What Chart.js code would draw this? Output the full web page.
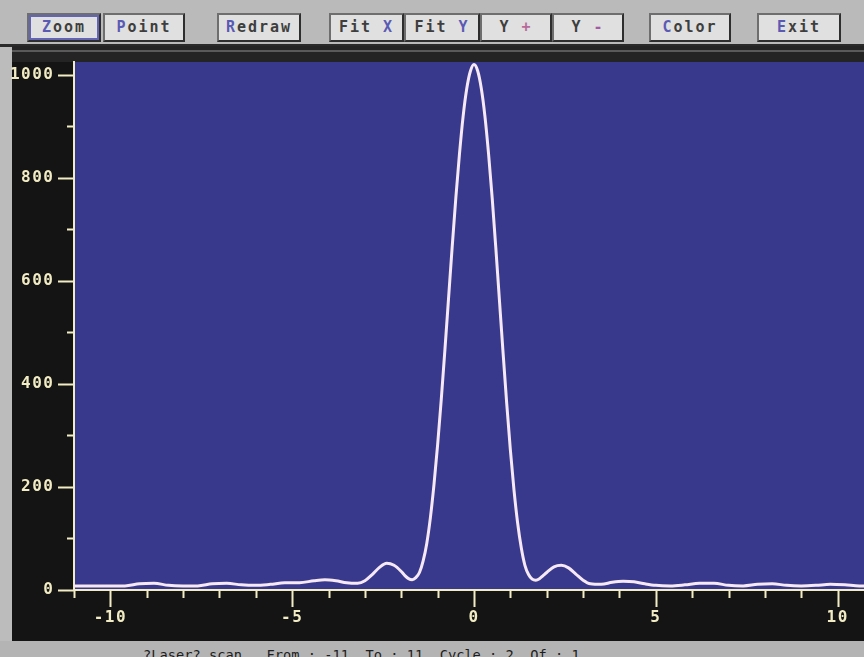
<!DOCTYPE html>
<html>
<head>
<meta charset="utf-8">
<title>Laser scan</title>
<script src="https://cdn.jsdelivr.net/npm/chart.js@4"></script>
<style>
  html, body { margin: 0; padding: 0; }
  body { width: 864px; height: 657px; overflow: hidden; background: #bcbcbc; position: relative; }
  #toolbar { position: absolute; left: 0; top: 0; width: 864px; height: 44px; background: #bababa; border-bottom: 3px solid #2a2a2a; }
  .btn { position: absolute; top: 13px; height: 29px; box-sizing: border-box; background: #e0e0e0;
         border: 2px solid; border-color: #6e6e6e #2e2e2e #2e2e2e #6e6e6e;
         font: bold 15px "DejaVu Sans Mono", monospace; letter-spacing: 2px; color: #3e3e3e;
         text-align: center; line-height: 25px; }
  .btn b { color: #5a5ab4; }
  .btn.sel { box-shadow: inset 0 0 0 2px #6464b4; }
  #wrap { position: absolute; left: 0; top: 46px; width: 880px; height: 595px; }
  #status { position: absolute; left: 0; top: 641px; width: 864px; height: 16px; background: #b4b4b4; overflow: hidden; }
  #status span { position: absolute; left: 143px; top: 6px; font: 13.7px "DejaVu Sans Mono", monospace; color: #1e1e1e; white-space: pre; }
</style>
</head>
<body>
<div id="toolbar">
  <div class="btn sel" style="left:27px;width:74px"><b>Z</b>oom</div>
  <div class="btn" style="left:103px;width:82px"><b>P</b>oint</div>
  <div class="btn" style="left:217px;width:84px"><b>R</b>edraw</div>
  <div class="btn" style="left:329px;width:75px">Fit <b>X</b></div>
  <div class="btn" style="left:404px;width:76px">Fit <b>Y</b></div>
  <div class="btn" style="left:480px;width:72px">Y <b style="color:#b86a9a">+</b></div>
  <div class="btn" style="left:552px;width:72px">Y <b style="color:#a45aa4">-</b></div>
  <div class="btn" style="left:649px;width:82px"><b>C</b>olor</div>
  <div class="btn" style="left:757px;width:84px"><b>E</b>xit</div>
</div>
<div id="wrap"><canvas id="scan" width="880" height="595"></canvas></div>
<div id="status"><span>?Laser? scan   From : -11  To : 11  Cycle : 2  Of : 1</span></div>
<script>
// scan position and measured intensity
const xs = [-11, -10.5, -10, -9.6, -9.2, -8.8, -8.4, -8.0, -7.6, -7.2, -6.8, -6.4, -6.0, -5.6, -5.2, -4.8,
  -4.4, -4.1, -3.8, -3.5, -3.2, -3.0, -2.8, -2.6, -2.4, -2.2, -2.0, -1.9, -1.8, -1.7, -1.6, -1.5,
  -1.4, -1.3, -1.2, -1.1, -1.0, -0.9, -0.8, -0.7, -0.6, -0.5, -0.4, -0.3, -0.2, -0.1, 0,
  0.1, 0.2, 0.3, 0.4, 0.5, 0.6, 0.7, 0.8, 0.9, 1.0, 1.1, 1.2, 1.3, 1.4, 1.5, 1.6, 1.7, 1.8, 1.9,
  2.0, 2.2, 2.4, 2.6, 2.8, 3.0, 3.2, 3.5, 3.8, 4.1, 4.4, 4.7, 5.0, 5.4, 5.8, 6.2, 6.6, 7.0, 7.4,
  7.8, 8.2, 8.6, 9.0, 9.4, 9.8, 10.2, 10.6, 11];
const intensity = [8, 8, 8, 8, 12, 13, 9, 8, 8, 12, 13, 10, 9, 11, 14, 14,
  18, 20, 18, 14, 13, 18, 30, 44, 52, 48, 36, 28, 22, 20, 24, 34,
  56, 90, 140, 205, 282, 370, 466, 566, 666, 761, 846, 919, 973, 1007, 1020,
  1008, 974, 920, 847, 761, 664, 562, 460, 362, 272, 194, 130, 82, 48, 30, 21, 19, 22, 28,
  34, 45, 48, 43, 31, 19, 12, 11, 15, 17, 16, 12, 9, 8, 10, 13, 13, 9, 8,
  11, 12, 9, 8, 9, 11, 10, 8, 8];

const xRange = [-11, 11];
const yRange = [0, 1025];
const xLabelTicks = [-10, -5, 0, 5, 10];
const yLabelTicks = [0, 200, 400, 600, 800, 1000];

const plotBlue = '#38398c';
const panelBlack = '#141414';
const axisCream = '#f2ecc4';

// black panel, blue plot field and the custom major/minor tick marks
const panelPlugin = {
  id: 'panel',
  beforeDraw(chart) {
    const { ctx, chartArea: a, width, height } = chart;
    // wide VGA-style digits for the axis labels
    ctx.letterSpacing = '1.5px';
    ctx.save();
    ctx.fillStyle = panelBlack;
    ctx.fillRect(12, 0, width - 12, height);
    ctx.fillStyle = '#242424';
    ctx.fillRect(12, 0, width - 12, a.top);
    ctx.fillStyle = '#5a5a5a';
    ctx.fillRect(12, 4, width - 12, 2);
    ctx.fillStyle = plotBlue;
    ctx.fillRect(a.left, a.top, a.right - a.left, a.bottom - a.top);
    ctx.restore();
  },
  afterDraw(chart) {
    const { ctx, chartArea: a, scales } = chart;
    ctx.save();
    ctx.strokeStyle = axisCream;
    ctx.lineWidth = 2;
    scales.x.ticks.forEach(t => {
      if (!Number.isInteger(t.value)) return;
      const px = Math.round(scales.x.getPixelForValue(t.value)) + 0.5;
      const len = xLabelTicks.includes(t.value) ? 17 : 8;
      ctx.beginPath();
      ctx.moveTo(px, a.bottom);
      ctx.lineTo(px, a.bottom + len);
      ctx.stroke();
    });
    scales.y.ticks.forEach(t => {
      if (t.value % 100 !== 0) return;
      const py = Math.round(scales.y.getPixelForValue(t.value)) + 0.5;
      const len = yLabelTicks.includes(t.value) ? 16 : 7;
      ctx.beginPath();
      ctx.moveTo(a.left, py);
      ctx.lineTo(a.left - len, py);
      ctx.stroke();
    });
    ctx.restore();
  }
};

const tickFont = { family: '"DejaVu Sans Mono", monospace', size: 16, weight: 'bold' };

// keep the plot field at a fixed size: no extra room for edge labels
function noEdgePadding(scale) {
  scale.paddingTop = 0;
  scale.paddingBottom = 0;
  scale.paddingLeft = 0;
  scale.paddingRight = 0;
}

new Chart(document.getElementById('scan'), {
  type: 'line',
  data: {
    datasets: [{
      data: xs.map((x, i) => ({ x: x, y: intensity[i] })),
      borderColor: '#f6e8f4',
      borderWidth: 3,
      pointRadius: 0,
      cubicInterpolationMode: 'monotone',
      fill: false
    }]
  },
  options: {
    responsive: false,
    animation: false,
    layout: { padding: { top: 16, right: 6, left: 0, bottom: 0 } },
    plugins: { legend: { display: false }, tooltip: { enabled: false } },
    scales: {
      x: {
        type: 'linear',
        min: xRange[0],
        max: xRange[1],
        grid: { display: false },
        border: { display: true, color: axisCream, width: 2 },
        afterFit(scale) { scale.height = 51; noEdgePadding(scale); },
        ticks: {
          stepSize: 1,
          autoSkip: false,
          maxRotation: 0,
          padding: 10,
          color: axisCream,
          font: tickFont,
          callback: v => xLabelTicks.includes(v) ? String(v) : ''
        }
      },
      y: {
        min: yRange[0],
        max: yRange[1],
        grid: { display: false },
        border: { display: true, color: axisCream, width: 2 },
        afterFit(scale) { scale.width = 74; noEdgePadding(scale); },
        ticks: {
          stepSize: 100,
          includeBounds: false,
          autoSkip: false,
          padding: 11.5,
          color: axisCream,
          font: tickFont,
          callback: v => yLabelTicks.includes(v) ? String(v) : ''
        }
      }
    }
  },
  plugins: [panelPlugin]
});
</script>
</body>
</html>
